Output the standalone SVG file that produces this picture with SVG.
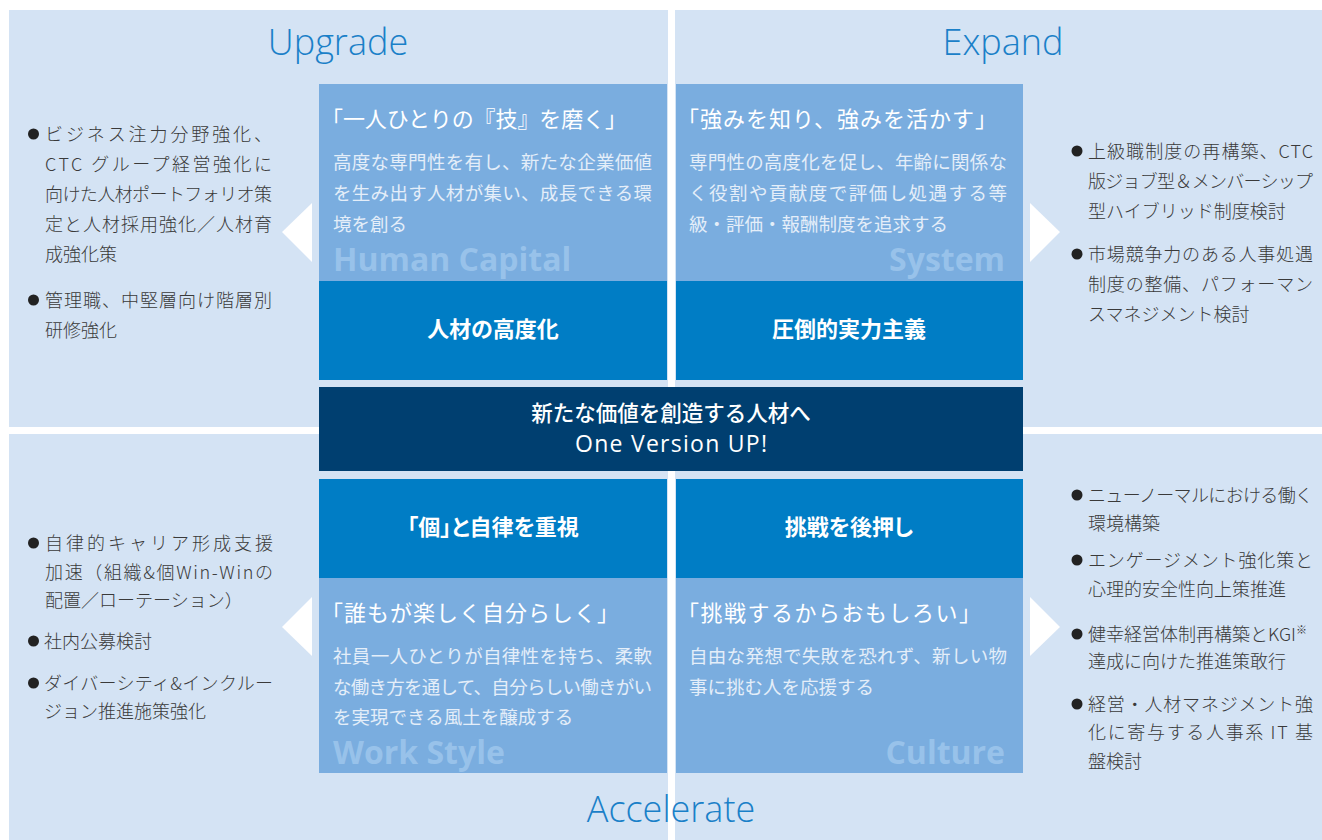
<svg xmlns="http://www.w3.org/2000/svg" width="1322" height="840" viewBox="0 0 1322 840">
<style>
.panel{fill:#d4e3f4}
.light{fill:#7aaddf}
.mid{fill:#007dc5}
.navy{fill:#003f70}
.tri{fill:#ffffff}
.head{font-family:"Open Sans","Liberation Sans",sans-serif;font-weight:300;font-size:36px;fill:#1a80c8;text-anchor:middle}
.wm{font-family:"Open Sans","Liberation Sans",sans-serif;font-weight:700;font-size:32px;fill:#98c2ea}
.jp{font-family:"Noto Sans CJK JP","Noto Sans",sans-serif}
.ttl{font-size:22px;fill:#ffffff}
.body{font-size:18.5px;fill:#e4eef9}
.lbl{font-size:22px;font-weight:700;fill:#ffffff;text-anchor:middle;font-feature-settings:"palt"}
.ctr{font-size:21.5px;font-weight:500;fill:#ffffff;text-anchor:middle}
.li{font-size:18px;font-weight:300;fill:#3a3a3a}
.dot{fill:#222222}
</style>

<g id="panels">
<rect class="panel" x="9" y="10" width="659" height="417"/>
<rect class="panel" x="675" y="10" width="647" height="417"/>
<rect class="panel" x="9" y="434" width="659" height="406"/>
<rect class="panel" x="675" y="434" width="647" height="406"/>
</g>

<g id="headings">
<text class="head" x="338" y="55">Upgrade</text>
<text class="head" x="1003" y="55">Expand</text>
<text class="head" x="671" y="822">Accelerate</text>
</g>

<g id="human-capital">
<rect class="light" x="319" y="84" width="348" height="197"/>
<text class="wm" x="333" y="271">Human Capital</text>
<text class="jp ttl" x="321" y="127" textLength="306" lengthAdjust="spacing">「一人ひとりの『技』を磨く」</text>
<text class="jp body" x="333" y="169" textLength="319" lengthAdjust="spacing">高度な専門性を有し、新たな企業価値</text>
<text class="jp body" x="333" y="200" textLength="319" lengthAdjust="spacing">を生み出す人材が集い、成長できる環</text>
<text class="jp body" x="333" y="231">境を創る</text>
</g>
<g id="jinzai">
<rect class="mid" x="319" y="281" width="348" height="99"/>
<text class="jp lbl" x="493" y="337">人材の高度化</text>
</g>

<g id="system">
<rect class="light" x="676" y="84" width="347" height="197"/>
<text class="wm" x="1005" y="271" text-anchor="end">System</text>
<text class="jp ttl" x="677" y="127" textLength="320" lengthAdjust="spacing">「強みを知り、強みを活かす」</text>
<text class="jp body" x="689" y="169" textLength="318" lengthAdjust="spacing">専門性の高度化を促し、年齢に関係な</text>
<text class="jp body" x="689" y="200" textLength="318" lengthAdjust="spacing">く役割や貢献度で評価し処遇する等</text>
<text class="jp body" x="689" y="231">級・評価・報酬制度を追求する</text>
</g>
<g id="attoteki">
<rect class="mid" x="676" y="281" width="347" height="99"/>
<text class="jp lbl" x="849" y="337">圧倒的実力主義</text>
</g>

<g id="center">
<rect class="navy" x="319" y="387" width="704" height="84"/>
<text class="jp ctr" x="671" y="421">新たな価値を創造する人材へ</text>
<text class="ctr" x="671" y="452" textLength="192" lengthAdjust="spacing" style="font-family:'Open Sans','Liberation Sans',sans-serif;font-weight:400;font-size:23px">One Version UP!</text>
</g>

<g id="ko">
<rect class="mid" x="319" y="479" width="348" height="99"/>
<text class="jp lbl" x="493" y="535">「個」と自律を重視</text>
</g>
<g id="work-style">
<rect class="light" x="319" y="578" width="348" height="195"/>
<text class="wm" x="333" y="764">Work Style</text>
<text class="jp ttl" x="321" y="621" textLength="298" lengthAdjust="spacing">「誰もが楽しく自分らしく」</text>
<text class="jp body" x="333" y="663" textLength="319" lengthAdjust="spacing">社員一人ひとりが自律性を持ち、柔軟</text>
<text class="jp body" x="333" y="694" textLength="319" lengthAdjust="spacing">な働き方を通して、自分らしい働きがい</text>
<text class="jp body" x="333" y="724">を実現できる風土を醸成する</text>
</g>

<g id="chosen">
<rect class="mid" x="676" y="479" width="347" height="99"/>
<text class="jp lbl" x="849" y="535">挑戦を後押し</text>
</g>
<g id="culture">
<rect class="light" x="676" y="578" width="347" height="195"/>
<text class="wm" x="1005" y="764" text-anchor="end">Culture</text>
<text class="jp ttl" x="677" y="621" textLength="304" lengthAdjust="spacing">「挑戦するからおもしろい」</text>
<text class="jp body" x="689" y="663" textLength="318" lengthAdjust="spacing">自由な発想で失敗を恐れず、新しい物</text>
<text class="jp body" x="689" y="694">事に挑む人を応援する</text>
</g>

<g id="connectors">
<polygon class="tri" points="312,203 312,262 282,232"/>
<polygon class="tri" points="1030,203 1030,262 1060,232"/>
<polygon class="tri" points="312,597 312,656 282,627"/>
<polygon class="tri" points="1030,597 1030,656 1060,627"/>
</g>

<g id="upgrade-list">
<circle class="dot" cx="33.5" cy="134" r="5.5"/>
<text class="jp li" x="45" y="141" textLength="227" lengthAdjust="spacing">ビジネス注力分野強化、</text>
<text class="jp li" x="45" y="171" textLength="227" lengthAdjust="spacing">CTC グループ経営強化に</text>
<text class="jp li" x="45" y="201" textLength="227" lengthAdjust="spacing">向けた人材ポートフォリオ策</text>
<text class="jp li" x="45" y="231" textLength="227" lengthAdjust="spacing">定と人材採用強化／人材育</text>
<text class="jp li" x="45" y="261">成強化策</text>
<circle class="dot" cx="33.5" cy="300" r="5.5"/>
<text class="jp li" x="45" y="307" textLength="227" lengthAdjust="spacing">管理職、中堅層向け階層別</text>
<text class="jp li" x="45" y="337">研修強化</text>
</g>

<g id="expand-list">
<circle class="dot" cx="1077" cy="151" r="5.5"/>
<text class="jp li" x="1088" y="158" textLength="225" lengthAdjust="spacing">上級職制度の再構築、CTC</text>
<text class="jp li" x="1088" y="188" textLength="225" lengthAdjust="spacing">版ジョブ型＆メンバーシップ</text>
<text class="jp li" x="1088" y="218">型ハイブリッド制度検討</text>
<circle class="dot" cx="1077" cy="254" r="5.5"/>
<text class="jp li" x="1088" y="261" textLength="225" lengthAdjust="spacing">市場競争力のある人事処遇</text>
<text class="jp li" x="1088" y="291" textLength="225" lengthAdjust="spacing">制度の整備、パフォーマン</text>
<text class="jp li" x="1088" y="321">スマネジメント検討</text>
</g>

<g id="accelerate-left-list">
<circle class="dot" cx="33.5" cy="543" r="5.5"/>
<text class="jp li" x="45" y="550" textLength="228" lengthAdjust="spacing">自律的キャリア形成支援</text>
<text class="jp li" x="45" y="579" textLength="228" lengthAdjust="spacing">加速（組織&amp;個Win-Winの</text>
<text class="jp li" x="45" y="607">配置／ローテーション）</text>
<circle class="dot" cx="33.5" cy="641" r="5.5"/>
<text class="jp li" x="44" y="648">社内公募検討</text>
<circle class="dot" cx="33.5" cy="683" r="5.5"/>
<text class="jp li" x="44" y="690" textLength="229" lengthAdjust="spacing">ダイバーシティ&amp;インクルー</text>
<text class="jp li" x="44" y="718">ジョン推進施策強化</text>
</g>

<g id="accelerate-right-list">
<circle class="dot" cx="1077" cy="495" r="5.5"/>
<text class="jp li" x="1088" y="502" textLength="225" lengthAdjust="spacing">ニューノーマルにおける働く</text>
<text class="jp li" x="1088" y="530">環境構築</text>
<circle class="dot" cx="1077" cy="560" r="5.5"/>
<text class="jp li" x="1088" y="567" textLength="225" lengthAdjust="spacing">エンゲージメント強化策と</text>
<text class="jp li" x="1088" y="596">心理的安全性向上策推進</text>
<circle class="dot" cx="1077" cy="634" r="5.5"/>
<text class="jp li" x="1088" y="641">健幸経営体制再構築とKGI<tspan font-size="11" dy="-7">※</tspan></text>
<text class="jp li" x="1088" y="668">達成に向けた推進策敢行</text>
<circle class="dot" cx="1077" cy="704" r="5.5"/>
<text class="jp li" x="1088" y="711" textLength="225" lengthAdjust="spacing">経営・人材マネジメント強</text>
<text class="jp li" x="1088" y="739" textLength="225" lengthAdjust="spacing">化に寄与する人事系 IT 基</text>
<text class="jp li" x="1088" y="768">盤検討</text>
</g>
</svg>
